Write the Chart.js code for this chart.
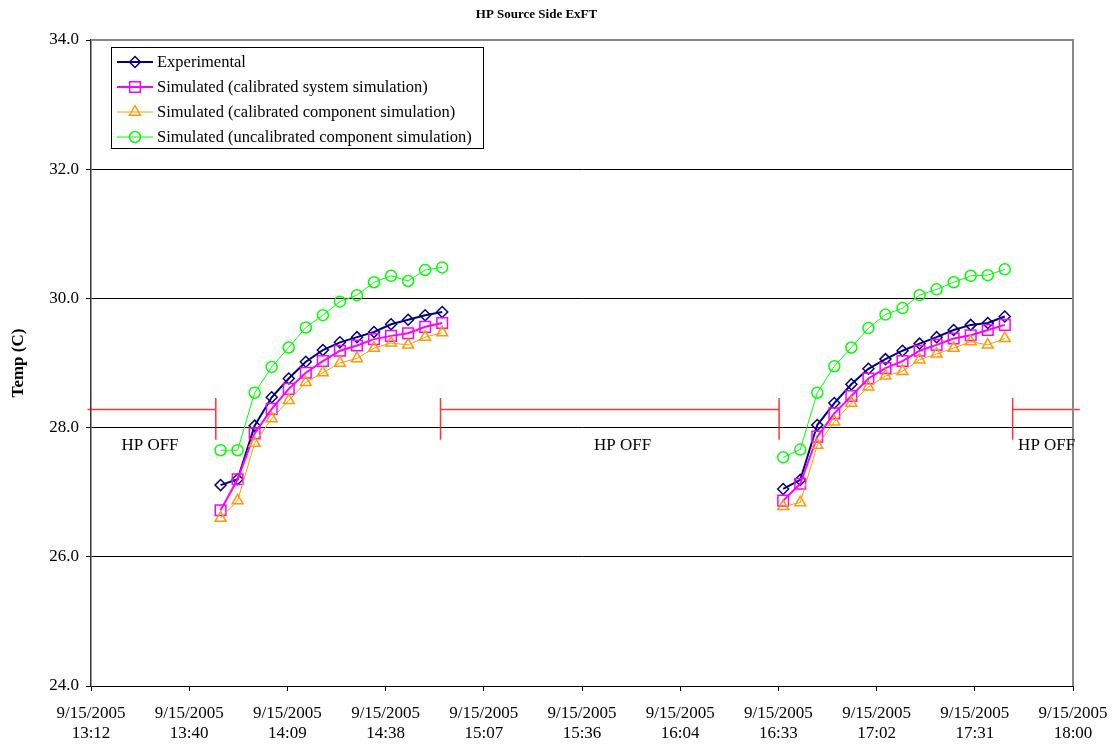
<!doctype html>
<html lang="en">
<head>
  <meta charset="UTF-8">
  <title>HP Source Side ExFT</title>
  <script src="https://cdn.jsdelivr.net/npm/chart.js@4.4.1/dist/chart.umd.min.js"></script>
  <style>
    html, body { margin: 0; padding: 0; background: #fff; }
    canvas { display: block; }
  </style>
</head>
<body>
  <canvas id="exftChart" width="1112" height="744"></canvas>
<script>
  // sample times, two HP runs of 14 samples each (5 min apart)
  const sampleTimes = [
    '13:50', '13:55', '14:00', '14:05', '14:10', '14:15', '14:20', '14:25', '14:30', '14:35', '14:40', '14:45', '14:50', '14:55',
    '16:35', '16:40', '16:45', '16:50', '16:55', '17:00', '17:05', '17:10', '17:15', '17:20', '17:25', '17:30', '17:35', '17:40'
  ];
  const experimental = [
    27.11, 27.20, 28.03, 28.47, 28.76, 29.02, 29.20, 29.32, 29.40, 29.48, 29.60, 29.67, 29.74, 29.79,
    27.05, 27.19, 28.04, 28.38, 28.67, 28.91, 29.06, 29.19, 29.30, 29.40, 29.51, 29.59, 29.62, 29.72
  ];
  const simSystem = [
    26.72, 27.20, 27.91, 28.29, 28.60, 28.85, 29.03, 29.19, 29.27, 29.37, 29.42, 29.46, 29.56, 29.62,
    26.87, 27.13, 27.86, 28.22, 28.49, 28.76, 28.92, 29.03, 29.19, 29.28, 29.38, 29.43, 29.51, 29.59
  ];
  const simComponent = [
    26.60, 26.87, 27.76, 28.14, 28.42, 28.70, 28.85, 29.00, 29.07, 29.23, 29.31, 29.28, 29.40, 29.47,
    26.78, 26.84, 27.73, 28.09, 28.38, 28.63, 28.80, 28.87, 29.05, 29.14, 29.23, 29.33, 29.28, 29.38
  ];
  const simUncalibrated = [
    27.65, 27.65, 28.54, 28.94, 29.24, 29.55, 29.74, 29.95, 30.05, 30.25, 30.35, 30.27, 30.44, 30.48,
    27.54, 27.66, 28.54, 28.95, 29.24, 29.54, 29.75, 29.85, 30.05, 30.14, 30.25, 30.35, 30.36, 30.45
  ];

  // x axis (minutes after midnight), 13:12 to 18:00
  const xMin = 792, xMax = 1080;
  const xTickDate = '9/15/2005';
  const xTickLabels = ['13:12', '13:40', '14:09', '14:38', '15:07', '15:36', '16:04', '16:33', '17:02', '17:31', '18:00'];

  // HP OFF markers
  const hpOffEdges = [828.6, 894.5, 993.8, 1062.3];
  const hpOffEnds = [791, 1082];
  const hpOffLevel = 28.28;
  const hpOffCap = [27.81, 28.46];
  const hpOffTextX = [809.3, 947.9, 1063.9];
  const hpOffTextAlign = ['center', 'center', 'left'];
  const hpOffTextY = 27.73;

  const FONT = "'Liberation Serif', 'Times New Roman', serif";

  function toMin(t) {
    const p = t.split(':');
    return parseInt(p[0]) * 60 + parseInt(p[1]);
  }

  // points with a break between the two runs
  function seriesPoints(values) {
    const pts = [];
    sampleTimes.forEach((t, i) => {
      const x = toMin(t);
      if (i > 0 && x - toMin(sampleTimes[i - 1]) > 10) pts.push({ x: x - 1, y: null });
      pts.push({ x: x, y: values[i] });
    });
    return pts;
  }

  function hpOffPoints() {
    const e = hpOffEdges, pts = [];
    const cap = x => [{ x: x, y: hpOffCap[0] }, { x: x, y: hpOffCap[1] }, { x: x, y: null }];
    pts.push({ x: hpOffEnds[0], y: hpOffLevel }, { x: e[0], y: hpOffLevel }, { x: e[0], y: null });
    pts.push(...cap(e[0]), ...cap(e[1]));
    pts.push({ x: e[1], y: hpOffLevel }, { x: e[2], y: hpOffLevel }, { x: e[2], y: null });
    pts.push(...cap(e[2]), ...cap(e[3]));
    pts.push({ x: e[3], y: hpOffLevel }, { x: hpOffEnds[1], y: hpOffLevel });
    return pts;
  }

  function series(label, values, color, style, radius, lineWidth, order) {
    return {
      label: label,
      data: seriesPoints(values),
      borderColor: color,
      backgroundColor: 'rgba(0,0,0,0)',
      borderWidth: lineWidth,
      pointStyle: style,
      pointRadius: radius,
      pointBorderWidth: 1.5,
      pointBorderColor: color,
      pointBackgroundColor: 'rgba(0,0,0,0)',
      tension: 0,
      spanGaps: false,
      order: order
    };
  }

  // legend box inside the plot, plus HP OFF labels and plot border
  const extras = {
    id: 'extras',
    afterDatasetsDraw(chart) {
      const { ctx, chartArea, scales } = chart;
      ctx.save();
      // gray plot border, top and right
      ctx.strokeStyle = '#888';
      ctx.lineWidth = 2;
      ctx.beginPath();
      ctx.moveTo(chartArea.left, chartArea.top);
      ctx.lineTo(chartArea.right, chartArea.top);
      ctx.lineTo(chartArea.right, chartArea.bottom);
      ctx.stroke();

      ctx.font = '17px ' + FONT;
      ctx.fillStyle = '#000';
      ctx.textBaseline = 'middle';
      hpOffTextX.forEach((x, i) => {
        ctx.textAlign = hpOffTextAlign[i];
        ctx.fillText('HP OFF', scales.x.getPixelForValue(x), scales.y.getPixelForValue(hpOffTextY));
      });

      const x0 = Math.round(chartArea.left) + 20, y0 = Math.round(chartArea.top) + 7;
      ctx.fillStyle = '#fff';
      ctx.fillRect(x0, y0, 372, 101);
      ctx.strokeStyle = '#000';
      ctx.lineWidth = 1;
      ctx.strokeRect(x0 + 0.5, y0 + 0.5, 372, 101);
      ctx.font = '16.5px ' + FONT;
      let row = 0;
      chart.data.datasets.forEach(ds => {
        if (!ds.label) return;
        const cy = y0 + 15 + row * 25;
        ctx.strokeStyle = ds.borderColor;
        ctx.lineWidth = ds.borderWidth;
        ctx.beginPath();
        ctx.moveTo(x0 + 6, cy);
        ctx.lineTo(x0 + 42, cy);
        ctx.stroke();
        ctx.lineWidth = ds.pointBorderWidth;
        ctx.fillStyle = 'rgba(0,0,0,0)';
        Chart.helpers.drawPoint(ctx, {
          pointStyle: ds.pointStyle, radius: ds.pointRadius, borderWidth: ds.pointBorderWidth, rotation: 0
        }, x0 + 24, cy);
        ctx.fillStyle = '#000';
        ctx.textAlign = 'left';
        ctx.fillText(ds.label, x0 + 46, cy + 1);
        row++;
      });
      ctx.restore();
    }
  };

  const ctx = document.getElementById('exftChart');
  new Chart(ctx, {
    type: 'line',
    data: {
      datasets: [
        series('Experimental', experimental, '#000080', 'rectRot', 5.5, 2, 4),
        series('Simulated (calibrated system simulation)', simSystem, '#ff00ff', 'rect', 7.5, 2, 3),
        series('Simulated (calibrated component simulation)', simComponent, '#ff9900', 'triangle', 6.3, 1, 2),
        series('Simulated (uncalibrated component simulation)', simUncalibrated, '#00ff00', 'circle', 5.5, 1, 1),
        {
          data: hpOffPoints(),
          borderColor: 'rgba(255,0,0,0.8)',
          borderWidth: 1.5,
          pointRadius: 0,
          spanGaps: false,
          clip: false,
          order: 10
        }
      ]
    },
    options: {
      responsive: false,
      animation: false,
      devicePixelRatio: 1,
      layout: { padding: { left: 0, right: 39, top: 0, bottom: 0 } },
      plugins: {
        legend: { display: false },
        tooltip: { enabled: false },
        title: {
          display: true,
          text: 'HP Source Side ExFT',
          color: '#000',
          font: { family: FONT, size: 13, weight: 'bold' },
          padding: { top: 7, bottom: 17.4 }
        }
      },
      scales: {
        x: {
          type: 'linear',
          min: xMin,
          max: xMax,
          afterBuildTicks: scale => {
            const step = (xMax - xMin) / (xTickLabels.length - 1);
            scale.ticks = xTickLabels.map((l, i) => ({ value: xMin + i * step }));
          },
          afterFit: scale => {
            scale.height = 58;
            scale.paddingLeft = 0;
            scale.paddingRight = 0;
          },
          ticks: {
            autoSkip: false,
            maxRotation: 0,
            color: '#000',
            padding: 12,
            font: { family: FONT, size: 17 },
            callback: (v, i) => [xTickDate, xTickLabels[i]]
          },
          grid: { drawOnChartArea: false, drawTicks: true, tickLength: 5, color: '#000' },
          border: { display: true, color: '#000', width: 1 }
        },
        y: {
          min: 24,
          max: 34,
          afterFit: scale => { scale.width = 91; },
          ticks: {
            stepSize: 2,
            color: '#000',
            padding: 7,
            font: { family: FONT, size: 17 },
            callback: v => v.toFixed(1)
          },
          grid: {
            color: c => (c.tick && c.tick.value === 34 ? '#888' : '#000'),
            tickLength: 5,
            tickColor: '#000'
          },
          border: { display: true, color: '#333', width: 1.5 },
          title: {
            display: true,
            text: 'Temp (C)',
            color: '#000',
            font: { family: FONT, size: 17, weight: 'bold' },
            padding: { top: 8, bottom: 0 }
          }
        }
      }
    },
    plugins: [extras]
  });
</script>
</body>
</html>
